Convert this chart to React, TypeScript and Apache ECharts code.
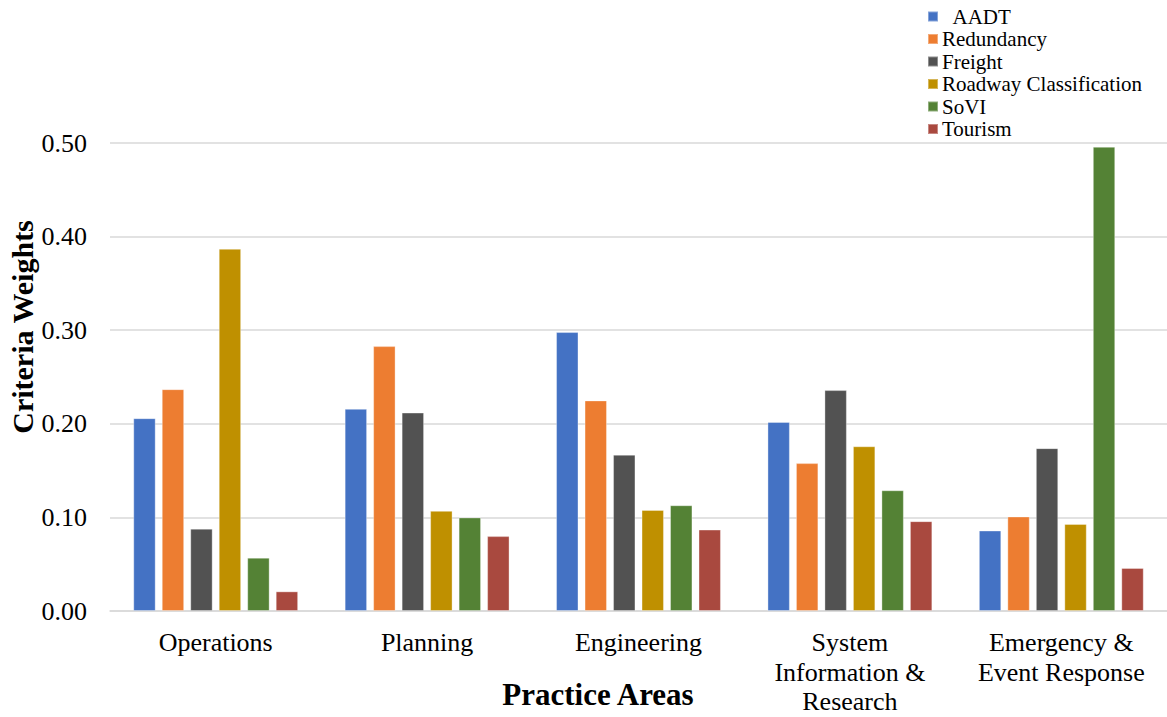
import React, { useEffect, useRef } from "react";
import * as echarts from "echarts";

const categories = [
  "Operations",
  "Planning",
  "Engineering",
  "System\nInformation &\nResearch",
  "Emergency &\nEvent Response",
];
const seriesNames = ["AADT", "Redundancy", "Freight", "Roadway Classification", "SoVI", "Tourism"];
const aadt = [0.206, 0.216, 0.298, 0.202, 0.086];
const redundancy = [0.237, 0.283, 0.225, 0.158, 0.101];
const freight = [0.088, 0.212, 0.167, 0.236, 0.174];
const roadway = [0.387, 0.107, 0.108, 0.176, 0.093];
const sovi = [0.057, 0.100, 0.113, 0.129, 0.496];
const tourism = [0.021, 0.080, 0.087, 0.096, 0.046];
const yTicks = [0, 0.1, 0.2, 0.3, 0.4, 0.5];
const colors = ["#4472C4", "#ED7D31", "#525252", "#BF9000", "#548235", "#A9493F"];

const FONT = "'Liberation Serif', 'Times New Roman', serif";

export default function App() {
  const ref = useRef<HTMLDivElement>(null);
  useEffect(() => {
    document.body.style.margin = "0";
    const chart = echarts.init(ref.current!, null, { renderer: "svg" });
    const values = [aadt, redundancy, freight, roadway, sovi, tourism];
    chart.setOption({
      animation: false,
      backgroundColor: "#ffffff",
      textStyle: { fontFamily: FONT },
      color: colors,
      legend: {
        orient: "vertical",
        left: 922,
        top: 1,
        itemWidth: 10,
        itemHeight: 10,
        itemGap: 1.5,
        icon: "rect",
        data: seriesNames,
        formatter: (n: string) => (n === "AADT" ? "\u00a0\u00a0AADT" : n),
        textStyle: { fontFamily: FONT, fontSize: 21, color: "#000", padding: [0, 0, 0, -1] },
      },
      grid: {
        left: 110,
        right: 0,
        top: 143,
        bottom: 106,
        containLabel: false,
        outerBoundsMode: "none",
      },
      xAxis: {
        type: "category",
        data: categories,
        axisLine: { show: true, lineStyle: { color: "#d9d9d9", width: 1.5 } },
        axisTick: { show: false },
        axisLabel: {
          interval: 0,
          margin: 17,
          fontFamily: FONT,
          fontSize: 26,
          lineHeight: 29.5,
          color: "#000",
        },
      },
      yAxis: {
        type: "value",
        min: 0,
        max: 0.5,
        interval: 0.1,
        axisLine: { show: false },
        axisTick: { show: false },
        splitLine: { lineStyle: { color: "#d9d9d9", width: 1.5 } },
        axisLabel: {
          margin: 23,
          fontFamily: FONT,
          fontSize: 26,
          color: "#000",
          formatter: (v: number) => {
            const t = yTicks.find((x) => Math.abs(x - v) < 1e-9);
            return (t !== undefined ? t : v).toFixed(2);
          },
        },
      },
      graphic: [
        {
          type: "text",
          x: 22,
          y: 327,
          rotation: Math.PI / 2,
          style: {
            text: "Criteria Weights",
            font: `bold 30px ${FONT}`,
            fill: "#000",
            align: "center",
            verticalAlign: "middle",
          },
        },
        {
          type: "text",
          x: 598,
          y: 694,
          style: {
            text: "Practice Areas",
            font: `bold 31px ${FONT}`,
            fill: "#000",
            align: "center",
            verticalAlign: "middle",
          },
        },
      ],
      series: seriesNames.map((name, i) => ({
        name,
        type: "bar",
        data: values[i],
        barGap: "27%",
        barCategoryGap: "22%",
        itemStyle: { color: colors[i], borderColor: "rgba(255,255,255,0.35)", borderWidth: 1 },
      })),
    });
    return () => chart.dispose();
  }, []);
  return <div ref={ref} style={{ width: 1167, height: 717 }} />;
}
